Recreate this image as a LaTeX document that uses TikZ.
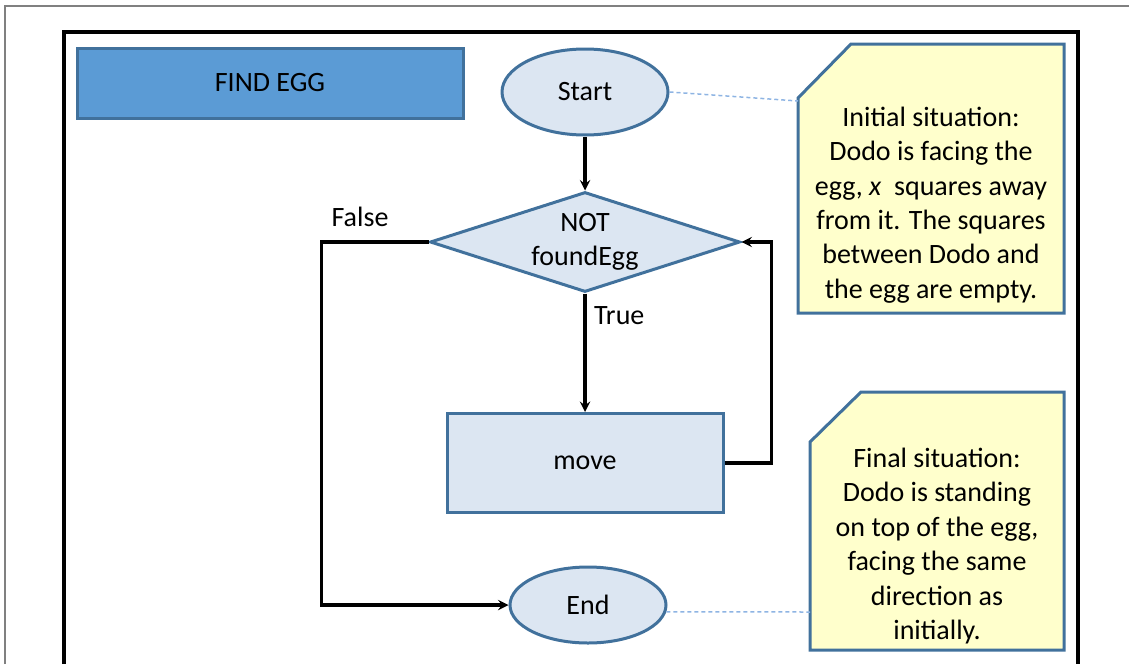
\documentclass[tikz,border=0pt]{standalone}
\usepackage{fontspec}
\setmainfont{Carlito}
\usetikzlibrary{shapes.geometric,positioning,arrows}
\definecolor{boxblue}{HTML}{5B9BD5}
\definecolor{edgeblue}{HTML}{41719C}
\definecolor{paleblue}{HTML}{DCE6F2}
\definecolor{paleyellow}{HTML}{FFFFCC}
\definecolor{dashblue}{HTML}{8EB4E3}
\tikzstyle{title} = [draw=edgeblue, fill=boxblue, rectangle, line width=3pt, minimum width=386pt, minimum height=70pt]
\tikzstyle{terminal} = [draw=edgeblue, fill=paleblue, ellipse, line width=3pt, inner sep=0pt]
\tikzstyle{decision} = [draw=edgeblue, fill=paleblue, diamond, aspect=3.1, line width=3pt, inner sep=0pt, minimum width=310pt, minimum height=100pt, align=center]
\tikzstyle{block} = [draw=edgeblue, fill=paleblue, rectangle, line width=3pt, minimum width=276pt, minimum height=99pt]
\tikzstyle{note} = [draw=edgeblue, fill=paleyellow, line width=3pt]
\tikzstyle{notetext} = [align=center, inner sep=0pt]
\tikzstyle{line} = [draw, line width=3.5pt, ->]
\tikzstyle{link} = [draw=dashblue, line width=1.5pt, dash pattern=on 4pt off 3pt]

\begin{document}
\begin{tikzpicture}[x=1pt, y=-1pt, node distance=150pt, >=stealth, font=\fontsize{28}{34.4}\selectfont]
	\useasboundingbox (0,0) rectangle (1129,664);
	\draw [gray, line width=1.5pt] (5,664) -- (5,6) -- (1129,6);
	\draw [line width=4pt] (64,664) -- (64,32) -- (1078,32) -- (1078,664);

	\node [title] (title) at (270,83) {FIND EGG};
	\node [terminal, minimum width=166pt, minimum height=86pt] (start) at (585,92) {Start};
	\node [decision, below of=start] (decide) {NOT\\foundEgg};
	\node [block, below of=decide, node distance=221pt] (move) {move};
	\node [terminal, minimum width=156pt, minimum height=76pt, below of=move, node distance=142pt, xshift=3pt] (end) {End};

	\draw [note] (798,98) -- (851,44) -- (1064,44) -- (1064,313) -- (798,313) -- cycle;
	\node [notetext] (init) at (931,205) {Initial situation:\\Dodo is facing the\\egg, \textit{x}\ \ squares away\\from it. The squares\\between Dodo and\\the egg are empty.};
	\draw [note] (810,442) -- (861,392) -- (1064,392) -- (1064,650) -- (810,650) -- cycle;
	\node [notetext] (final) at (937,546) {Final situation:\\Dodo is standing\\on top of the egg,\\facing the same\\direction as\\initially.};
	\coordinate (initedge) at (798,101);
	\coordinate (finaledge) at (810,612);

	\draw [line] (start) -- (decide);
	\draw [line] (decide) -- node[right, pos=0.19, xshift=4pt]{True} (move);
	\draw [line] (move.east) -- ++(47,0) |- (decide.east);
	\draw [line] (decide.west) -- node[above, pos=0.64, yshift=10pt]{False} ++(-107,0) |- (end.west);
	\draw [link] (start.east) -- (initedge);
	\draw [link] (end.-5) -- (finaledge);
\end{tikzpicture}
\end{document}
